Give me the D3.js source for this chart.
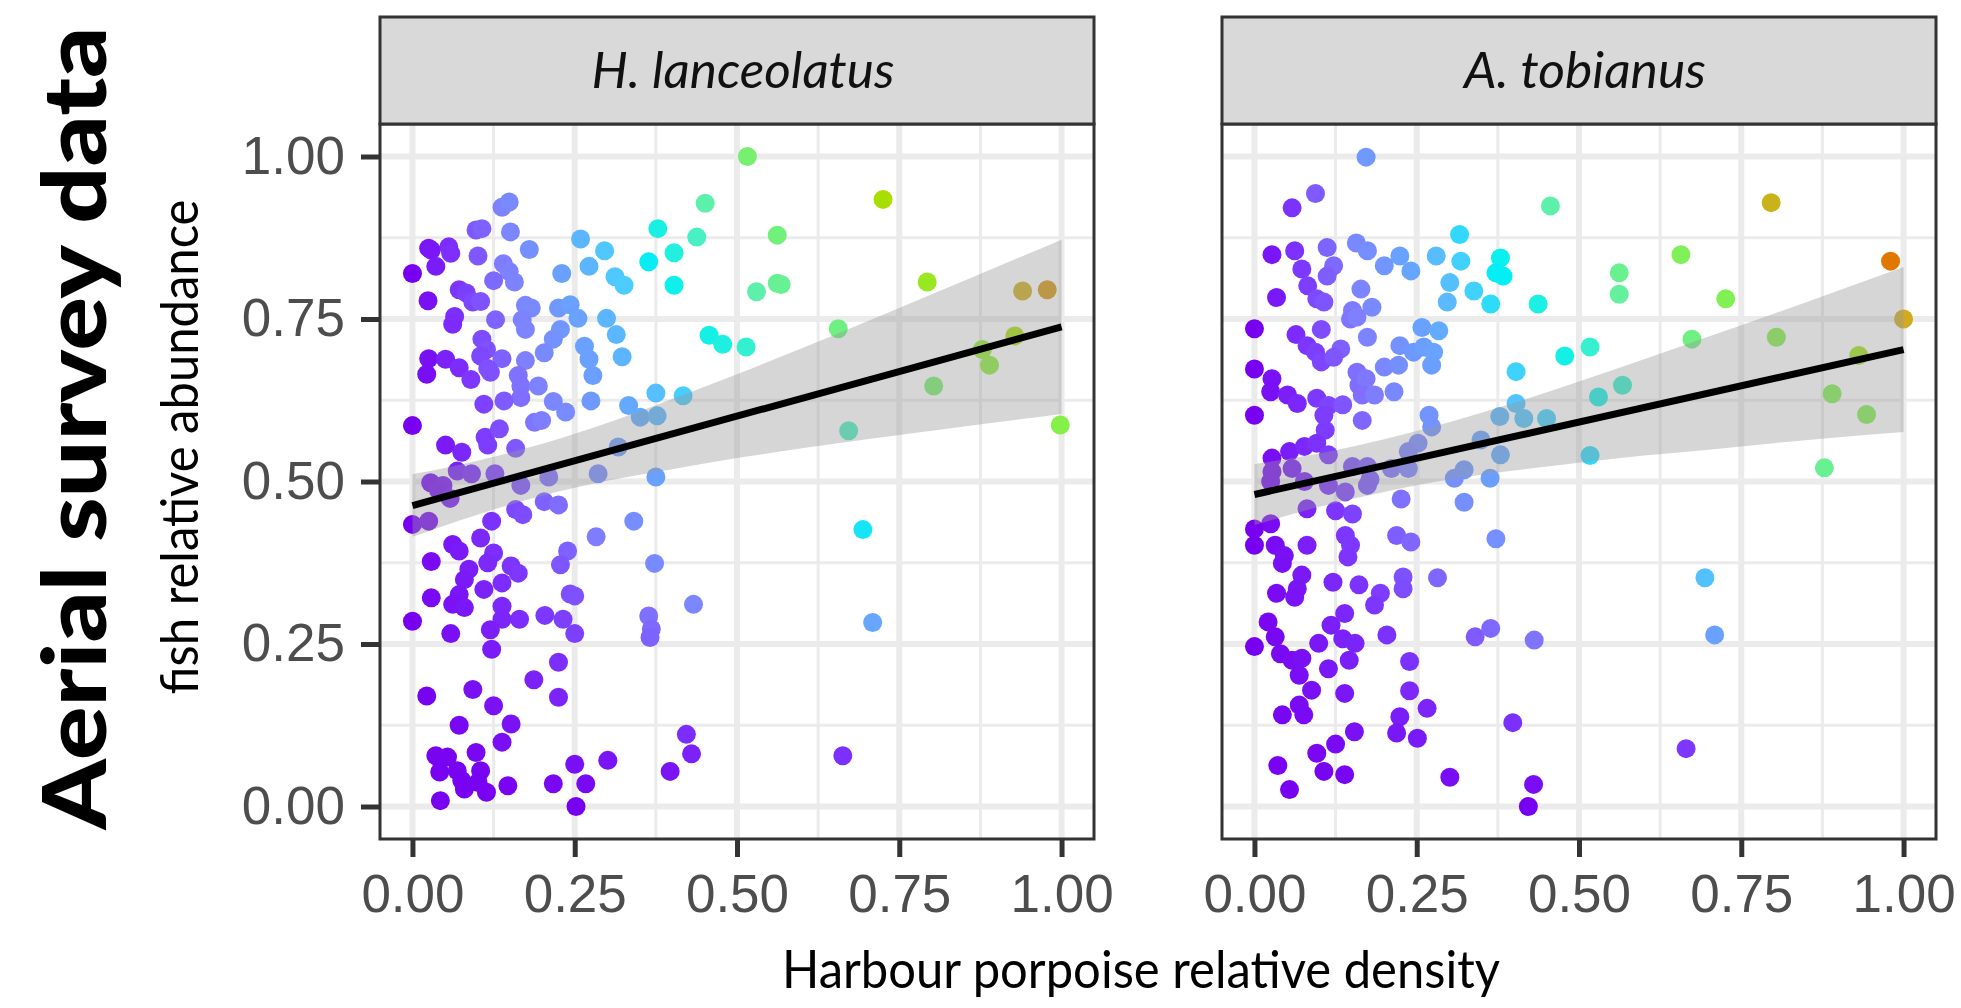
<!DOCTYPE html>
<html>
<head>
<meta charset="utf-8">
<script src="https://cdn.jsdelivr.net/npm/d3@7"></script>
<style>
  html, body { margin: 0; padding: 0; background: #ffffff; }
  svg { display: block; }
</style>
</head>
<body>
<svg id="chart" width="1961" height="1008"></svg>
<script>
// panel titles (species)
const species = ["H. lanceolatus", "A. tobianus"];

// tick values shared by both axes
const tickValues = [0, 0.25, 0.5, 0.75, 1];
const minorTicks = [0.125, 0.375, 0.625, 0.875];

// scatter: [porpoise density, fish abundance]
const lanceolatusPoints = [
  [0.516,1.0],[0.725,0.934],[0.451,0.928],[0.138,0.922],[0.149,0.930],[0.098,0.887],[0.107,0.889],[0.151,0.884],
  [0.562,0.879],[0.378,0.889],[0.438,0.876],[0.259,0.873],[0.296,0.855],[0.025,0.859],[0.029,0.856],[0.056,0.861],
  [0.059,0.851],[0.180,0.857],[0.101,0.847],[0.403,0.852],[0.364,0.838],[0.0,0.82],[0.036,0.831],[0.14,0.835],
  [0.149,0.823],[0.157,0.807],[0.23,0.82],[0.272,0.831],[0.312,0.815],[0.326,0.802],[0.403,0.802],[0.125,0.809],
  [0.562,0.805],[0.568,0.803],[0.53,0.792],[0.793,0.807],[0.94,0.793],[0.978,0.795],[0.024,0.778],[0.072,0.795],
  [0.083,0.79],[0.093,0.776],[0.105,0.777],[0.065,0.754],[0.062,0.742],[0.128,0.749],[0.174,0.771],[0.183,0.767],
  [0.169,0.749],[0.174,0.734],[0.225,0.767],[0.243,0.772],[0.255,0.751],[0.228,0.734],[0.299,0.751],[0.314,0.726],
  [0.265,0.708],[0.272,0.688],[0.278,0.663],[0.323,0.692],[0.457,0.725],[0.478,0.711],[0.514,0.707],[0.656,0.735],
  [0.217,0.719],[0.203,0.698],[0.107,0.719],[0.114,0.703],[0.105,0.693],[0.138,0.689],[0.025,0.689],[0.022,0.665],
  [0.051,0.688],[0.072,0.675],[0.09,0.657],[0.116,0.674],[0.12,0.668],[0.174,0.686],[0.163,0.663],[0.167,0.647],
  [0.194,0.647],[0.167,0.629],[0.11,0.619],[0.141,0.624],[0.217,0.623],[0.236,0.607],[0.275,0.624],[0.188,0.591],
  [0.199,0.594],[0.333,0.617],[0.351,0.599],[0.377,0.601],[0.375,0.636],[0.417,0.632],[0.0,0.586],[0.889,0.679],
  [0.878,0.703],[0.928,0.724],[0.803,0.647],[0.672,0.578],[0.998,0.587],[0.051,0.556],[0.076,0.545],[0.112,0.568],
  [0.116,0.556],[0.134,0.581],[0.159,0.551],[0.317,0.553],[0.286,0.512],[0.375,0.507],[0.21,0.507],[0.069,0.516],
  [0.091,0.512],[0.127,0.512],[0.028,0.498],[0.047,0.494],[0.167,0.494],[0.04,0.487],[0.058,0.474],[0.159,0.457],
  [0.17,0.449],[0.203,0.469],[0.225,0.464],[0.0,0.434],[0.025,0.439],[0.122,0.439],[0.341,0.439],[0.283,0.415],
  [0.694,0.426],[0.062,0.403],[0.072,0.393],[0.105,0.413],[0.125,0.39],[0.116,0.375],[0.239,0.393],[0.228,0.372],
  [0.029,0.377],[0.373,0.374],[0.087,0.365],[0.08,0.349],[0.072,0.326],[0.152,0.37],[0.163,0.359],[0.138,0.344],
  [0.11,0.334],[0.029,0.321],[0.062,0.311],[0.08,0.306],[0.138,0.308],[0.138,0.288],[0.165,0.288],[0.243,0.327],
  [0.25,0.324],[0.204,0.294],[0.232,0.288],[0.25,0.266],[0.0,0.285],[0.059,0.266],[0.12,0.272],[0.122,0.242],
  [0.433,0.311],[0.364,0.293],[0.368,0.273],[0.366,0.26],[0.709,0.283],[0.225,0.222],[0.187,0.195],[0.022,0.17],
  [0.093,0.18],[0.225,0.168],[0.125,0.155],[0.152,0.127],[0.138,0.099],[0.072,0.125],[0.422,0.111],[0.43,0.081],
  [0.663,0.078],[0.397,0.054],[0.301,0.071],[0.25,0.065],[0.098,0.083],[0.036,0.078],[0.054,0.076],[0.042,0.053],
  [0.069,0.055],[0.076,0.04],[0.105,0.055],[0.101,0.037],[0.08,0.027],[0.114,0.022],[0.147,0.032],[0.217,0.035],
  [0.267,0.035],[0.043,0.009],[0.252,0.0]
];

const tobianusPoints = [
  [0.172,0.999],[0.094,0.943],[0.058,0.921],[0.456,0.924],[0.796,0.929],[0.316,0.88],[0.027,0.849],[0.062,0.855],
  [0.112,0.86],[0.157,0.867],[0.174,0.855],[0.073,0.827],[0.082,0.801],[0.096,0.781],[0.107,0.776],[0.122,0.832],
  [0.112,0.816],[0.2,0.832],[0.224,0.847],[0.241,0.824],[0.28,0.847],[0.318,0.839],[0.379,0.844],[0.372,0.821],
  [0.383,0.816],[0.657,0.849],[0.98,0.839],[0.034,0.783],[0.301,0.806],[0.297,0.776],[0.338,0.793],[0.364,0.773],
  [0.437,0.773],[0.164,0.796],[0.181,0.768],[0.151,0.763],[0.148,0.75],[0.562,0.821],[0.562,0.788],[0.726,0.781],
  [0.0,0.735],[0.064,0.726],[0.081,0.709],[0.094,0.699],[0.103,0.684],[0.103,0.734],[0.133,0.704],[0.122,0.691],
  [0.174,0.722],[0.158,0.753],[0.258,0.737],[0.284,0.732],[0.224,0.709],[0.245,0.699],[0.261,0.707],[0.276,0.699],
  [0.273,0.679],[0.2,0.676],[0.222,0.679],[0.158,0.668],[0.161,0.648],[0.172,0.658],[0.674,0.719],[0.804,0.722],
  [1.0,0.75],[0.931,0.694],[0.517,0.707],[0.478,0.693],[0.403,0.669],[0.0,0.673],[0.027,0.658],[0.025,0.638],
  [0.0,0.602],[0.051,0.633],[0.066,0.62],[0.096,0.628],[0.114,0.617],[0.136,0.618],[0.107,0.602],[0.109,0.579],
  [0.166,0.594],[0.166,0.633],[0.185,0.633],[0.215,0.638],[0.269,0.602],[0.273,0.584],[0.403,0.62],[0.567,0.648],
  [0.53,0.63],[0.378,0.6],[0.415,0.597],[0.45,0.597],[0.89,0.635],[0.943,0.603],[0.517,0.54],[0.878,0.521],
  [0.349,0.564],[0.379,0.541],[0.252,0.559],[0.237,0.546],[0.027,0.536],[0.054,0.546],[0.077,0.554],[0.096,0.559],
  [0.114,0.541],[0.027,0.515],[0.058,0.52],[0.151,0.523],[0.174,0.523],[0.211,0.52],[0.237,0.52],[0.323,0.518],
  [0.363,0.505],[0.308,0.505],[0.178,0.503],[0.025,0.5],[0.077,0.5],[0.114,0.494],[0.14,0.484],[0.174,0.494],
  [0.081,0.458],[0.125,0.455],[0.151,0.45],[0.226,0.473],[0.323,0.468],[0.025,0.435],[0.0,0.427],[0.0,0.402],
  [0.032,0.402],[0.046,0.386],[0.043,0.374],[0.081,0.402],[0.14,0.417],[0.148,0.402],[0.144,0.384],[0.219,0.417],
  [0.241,0.407],[0.372,0.412],[0.073,0.356],[0.066,0.335],[0.062,0.322],[0.034,0.328],[0.121,0.345],[0.161,0.341],
  [0.194,0.328],[0.185,0.31],[0.229,0.353],[0.229,0.335],[0.282,0.352],[0.694,0.352],[0.021,0.284],[0.032,0.261],
  [0.0,0.246],[0.04,0.235],[0.058,0.225],[0.073,0.228],[0.069,0.202],[0.099,0.251],[0.118,0.279],[0.139,0.297],
  [0.136,0.258],[0.155,0.251],[0.114,0.212],[0.146,0.225],[0.204,0.264],[0.34,0.261],[0.364,0.274],[0.431,0.256],
  [0.709,0.264],[0.239,0.223],[0.239,0.178],[0.088,0.179],[0.069,0.156],[0.043,0.141],[0.076,0.141],[0.139,0.174],
  [0.266,0.151],[0.224,0.138],[0.219,0.113],[0.251,0.105],[0.154,0.115],[0.125,0.096],[0.398,0.129],[0.096,0.082],
  [0.107,0.054],[0.139,0.049],[0.036,0.063],[0.054,0.026],[0.665,0.089],[0.301,0.045],[0.43,0.034],[0.422,0.0]
];

// lm fit (value at x = 0 and x = 1) and its confidence band
const fitX = [0, 1];
const lanceolatusFit = [0.463, 0.738];
const tobianusFit = [0.480, 0.703];

const bandX = [0, 0.1, 0.2, 0.3, 0.4, 0.5, 0.6, 0.7, 0.8, 0.9, 1.0];
const lanceolatusLower = [0.415, 0.449, 0.478, 0.501, 0.519, 0.536, 0.551, 0.565, 0.578, 0.591, 0.604];
const lanceolatusUpper = [0.511, 0.532, 0.558, 0.590, 0.627, 0.665, 0.705, 0.746, 0.788, 0.830, 0.872];
const tobianusLower = [0.433, 0.461, 0.484, 0.503, 0.517, 0.529, 0.540, 0.549, 0.559, 0.568, 0.576];
const tobianusUpper = [0.527, 0.543, 0.565, 0.591, 0.621, 0.654, 0.688, 0.723, 0.758, 0.794, 0.830];

// colour encodes overlap (density x abundance)
const overlapStops = [0, 0.06, 0.12, 0.2, 0.26, 0.31, 0.4, 0.5, 0.6, 0.68, 0.75, 0.82];
const overlapColors = ["#7800f0", "#7d38ff", "#7f80ff", "#66a6ff", "#4ecbff", "#00f0f5",
                       "#58f0b8", "#74f078", "#88f040", "#aadd00", "#d0aa20", "#e07800"];

const panels = [
  { title: species[0], points: lanceolatusPoints, fit: lanceolatusFit, lower: lanceolatusLower, upper: lanceolatusUpper, left: 380, yAxis: true },
  { title: species[1], points: tobianusPoints, fit: tobianusFit, lower: tobianusLower, upper: tobianusUpper, left: 1222, yAxis: false }
];

const svg = d3.select("#chart");
const panelW = 714, panelTop = 124, panelBottom = 839, stripTop = 17;
const labelFont = "Lato, 'Open Sans', sans-serif";
const tickFont = "'Liberation Sans', Arial, Helvetica, sans-serif";

const color = d3.scaleLinear().domain(overlapStops).range(overlapColors).clamp(true);
const y = d3.scaleLinear().domain([-0.05, 1.05]).range([panelBottom, panelTop]);

function styleAxis(axisG) {
    axisG.select(".domain").remove();
    axisG.selectAll(".tick line").attr("stroke", "#333333").attr("stroke-width", 5);
    axisG.selectAll(".tick text")
        .attr("font-family", tickFont)
        .attr("font-size", 53)
        .attr("fill", "#4d4d4d");
}

panels.forEach(p => {
    const x = d3.scaleLinear().domain([-0.05, 1.05]).range([p.left, p.left + panelW]);
    const g = svg.append("g");

    g.append("rect")
        .attr("x", p.left).attr("y", panelTop)
        .attr("width", panelW).attr("height", panelBottom - panelTop)
        .attr("fill", "#ffffff");

    // grid
    const grid = g.append("g").attr("stroke", "#ebebeb");
    minorTicks.forEach(v => {
        grid.append("line").attr("x1", x(v)).attr("x2", x(v)).attr("y1", panelTop).attr("y2", panelBottom).attr("stroke-width", 3);
        grid.append("line").attr("y1", y(v)).attr("y2", y(v)).attr("x1", p.left).attr("x2", p.left + panelW).attr("stroke-width", 3);
    });
    tickValues.forEach(v => {
        grid.append("line").attr("x1", x(v)).attr("x2", x(v)).attr("y1", panelTop).attr("y2", panelBottom).attr("stroke-width", 6);
        grid.append("line").attr("y1", y(v)).attr("y2", y(v)).attr("x1", p.left).attr("x2", p.left + panelW).attr("stroke-width", 6);
    });

    // points
    g.append("g").selectAll("circle")
        .data(p.points)
        .join("circle")
        .attr("cx", d => x(d[0]))
        .attr("cy", d => y(d[1]))
        .attr("r", 9.5)
        .attr("fill", d => color(d[0] * d[1]));

    // confidence band
    const band = bandX.map((bx, i) => ({ x: bx, lo: p.lower[i], hi: p.upper[i] }));
    g.append("path")
        .datum(band)
        .attr("fill", "#999999")
        .attr("fill-opacity", 0.4)
        .attr("d", d3.area().curve(d3.curveMonotoneX)
            .x(d => x(d.x)).y0(d => y(d.lo)).y1(d => y(d.hi)));

    // fitted line
    g.append("path")
        .datum(fitX.map((fx, i) => [fx, p.fit[i]]))
        .attr("fill", "none")
        .attr("stroke", "#000000")
        .attr("stroke-width", 7)
        .attr("d", d3.line().x(d => x(d[0])).y(d => y(d[1])));

    // panel border
    g.append("rect")
        .attr("x", p.left).attr("y", panelTop)
        .attr("width", panelW).attr("height", panelBottom - panelTop)
        .attr("fill", "none").attr("stroke", "#333333").attr("stroke-width", 3);

    // strip
    g.append("rect")
        .attr("x", p.left).attr("y", stripTop)
        .attr("width", panelW).attr("height", panelTop - stripTop)
        .attr("fill", "#d9d9d9").attr("stroke", "#333333").attr("stroke-width", 3);
    g.append("text")
        .attr("x", p.left + panelW / 2 + 6)
        .attr("y", 88)
        .attr("text-anchor", "middle")
        .attr("font-family", labelFont)
        .attr("font-style", "italic")
        .attr("font-size", 50)
        .attr("fill", "#111111")
        .attr("textLength", p.title === species[0] ? 303 : 242)
        .attr("lengthAdjust", "spacingAndGlyphs")
        .text(p.title);

    // x axis
    const xAxis = g.append("g")
        .attr("transform", `translate(0,${panelBottom})`)
        .call(d3.axisBottom(x).tickValues(tickValues).tickFormat(d3.format(".2f")).tickSize(18).tickPadding(17));
    styleAxis(xAxis);

    if (p.yAxis) {
        const yAxis = g.append("g")
            .attr("transform", `translate(${p.left},0)`)
            .call(d3.axisLeft(y).tickValues(tickValues).tickFormat(d3.format(".2f")).tickSize(19).tickPadding(16));
        styleAxis(yAxis);
    }
});

// axis titles
svg.append("text")
    .attr("transform", "translate(106,428) rotate(-90)")
    .attr("text-anchor", "middle")
    .attr("font-family", labelFont)
    .attr("font-weight", 900)
    .attr("font-size", 88)
    .attr("fill", "#000000")
    .attr("textLength", 803)
    .attr("lengthAdjust", "spacingAndGlyphs")
    .text("Aerial survey data");

svg.append("text")
    .attr("transform", "translate(198,447) rotate(-90)")
    .attr("text-anchor", "middle")
    .attr("font-family", labelFont)
    .attr("font-size", 52)
    .attr("fill", "#000000")
    .attr("textLength", 495)
    .attr("lengthAdjust", "spacingAndGlyphs")
    .text("fish relative abundance");

svg.append("text")
    .attr("x", 1141)
    .attr("y", 988)
    .attr("text-anchor", "middle")
    .attr("font-family", labelFont)
    .attr("font-size", 52)
    .attr("fill", "#000000")
    .attr("textLength", 718)
    .attr("lengthAdjust", "spacingAndGlyphs")
    .text("Harbour porpoise relative density");
</script>
</body>
</html>
